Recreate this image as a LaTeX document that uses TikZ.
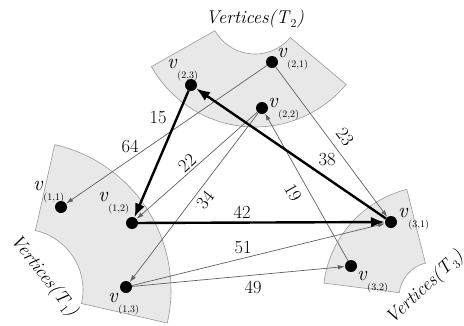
\documentclass[tikz,border=0pt]{standalone}
\usetikzlibrary{arrows.meta,calc}
\newcommand{\vtx}[1]{\textit{v}\raisebox{-10pt}{\fontsize{10}{10}\selectfont(#1)}}
\newcommand{\vset}[1]{\textit{Vertices(T}\raisebox{-4pt}{\fontsize{12}{12}\selectfont #1}\textit{)}}
\begin{document}
\begin{tikzpicture}[x=1pt, y=-1pt, >=Latex,
  sector/.style={fill=black!9, draw=black!40, line width=0.6pt},
  vert/.style={circle, fill=black, inner sep=0pt, minimum size=12pt},
  thin edge/.style={-{Latex[length=7pt,width=4.5pt]}, draw=black!62, line width=0.7pt},
  thick edge/.style={->, line width=2.4pt},
  vlab/.style={anchor=base west, inner sep=0pt, font=\fontsize{21}{21}\selectfont},
  wlab/.style={inner sep=0pt, font=\fontsize{18.5}{18.5}\selectfont},
  slab/.style={inner sep=0pt, font=\fontsize{18.5}{18.5}\selectfont}]
  \useasboundingbox (0,0) rectangle (464,325);
  % the three vertex sets
  \filldraw[sector] (255,8) ++(40:46) arc[start angle=40, end angle=150.5, radius=46]
    -- ($(255,8)+(150.5:119)$) arc[start angle=150.5, end angle=40, radius=119] -- cycle;
  \filldraw[sector] (22,290) ++(-77.3:61) arc[start angle=-77.3, end angle=12.8, radius=61]
    -- ($(22,290)+(12.8:149)$) arc[start angle=12.8, end angle=-77.3, radius=149] -- cycle;
  \filldraw[sector] (434,297) ++(187.2:35) arc[start angle=187.2, end angle=255.8, radius=35]
    -- ($(434,297)+(255.8:111)$) arc[start angle=255.8, end angle=187.2, radius=111] -- cycle;
  \node[slab] (t2) at (255,19) {\vset{2}};
  \node[slab, rotate=-52] (t1) at (44,276) {\vset{1}};
  \node[slab, rotate=43] (t3) at (425,288) {\vset{3}};
  % vertices
  \node[vert] (v11) at (61,207) {};
  \node[vert] (v12) at (132,223) {};
  \node[vert] (v13) at (126,287) {};
  \node[vert] (v21) at (272,62) {};
  \node[vert] (v22) at (262,108) {};
  \node[vert] (v23) at (191,85) {};
  \node[vert] (v31) at (391,222) {};
  \node[vert] (v32) at (351,266) {};
  \node[vlab] (l11) at (33,190) {\vtx{1,1}};
  \node[vlab] (l12) at (98,201) {\vtx{1,2}};
  \node[vlab] (l13) at (108,302) {\vtx{1,3}};
  \node[vlab] (l21) at (277,57) {\vtx{2,1}};
  \node[vlab] (l22) at (268,107) {\vtx{2,2}};
  \node[vlab] (l23) at (167,68) {\vtx{2,3}};
  \node[vlab] (l31) at (398,217) {\vtx{3,1}};
  \node[vlab] (l32) at (357,280) {\vtx{3,2}};
  % edges
  \draw[thin edge] (v21) -- (v11);
  \draw[thin edge] (v22) -- (v12);
  \draw[thin edge] (v22) -- (v13);
  \draw[thin edge] (v21) -- (v31);
  \draw[thin edge] (v32) -- (v22);
  \draw[thin edge] (v13) -- (v31);
  \draw[thin edge] (v13) -- (v32);
  \draw[thick edge] (v23) -- (v12);
  \draw[thick edge] (v12) -- (v31);
  \draw[thick edge] (v31) -- (v23);
  % weights
  \node[wlab] (w15) at (158,118) {15};
  \node[wlab] (w64) at (130,146) {64};
  \node[wlab, rotate=41.5] (w22) at (187,163) {22};
  \node[wlab, rotate=52] (w34) at (205,200) {34};
  \node[wlab] (w42) at (242,212) {42};
  \node[wlab] (w38) at (327,160) {38};
  \node[wlab, rotate=-53.5] (w23) at (345,137) {23};
  \node[wlab, rotate=-60.6] (w19) at (293,193) {19};
  \node[wlab] (w51) at (243,248) {51};
  \node[wlab] (w49) at (253,287) {49};
\end{tikzpicture}
\end{document}
